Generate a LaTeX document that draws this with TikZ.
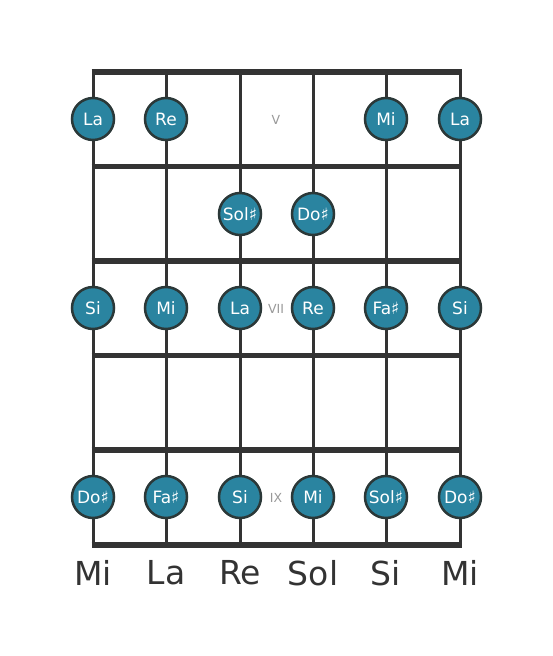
\documentclass[tikz,border=0pt]{standalone}
\usepackage{fontspec}
\setmainfont{DejaVu Sans}
\usepackage{tikz}

\definecolor{notefill}{HTML}{2A84A0}
\definecolor{noteline}{HTML}{2B3838}
\definecolor{boardline}{HTML}{333333}
\definecolor{fretgray}{HTML}{999999}

\begin{document}
\begin{tikzpicture}
        [x=1pt, y=-1pt,
        note/.style={circle, draw=noteline, fill=notefill, line width=2.5pt,
          minimum size=42pt, inner sep=0pt, text=white,
          font=\fontsize{17}{17}\selectfont},
        fretnum/.style={text=fretgray, font=\fontsize{12.5}{12.5}\selectfont},
        openstr/.style={text=boardline, font=\fontsize{33}{33}\selectfont},
        stringline/.style={draw=boardline, line width=3pt},
        fretline/.style={draw=boardline, line width=5.5pt}]
        \useasboundingbox (0,0) rectangle (553,656);
        % strings and frets
        \foreach \x in {93,166,240,313,386,460}
          \draw[stringline] (\x,72) -- (\x,545);
        \foreach \y in {72,166.5,261,355.5,450,545}
          \draw[fretline] (91.5,\y) -- (461.5,\y);
        % fret V
        \node (E5) at (93, 119) [note] {La};
        \node (A5) at (166, 119) [note] {Re};
        \node (V) at (276, 120) [fretnum] {V};
        \node (B5) at (386, 119) [note] {Mi};
        \node (e5) at (460, 119) [note] {La};
        % fret VI
        \node (D6) at (240, 214) [note] {Sol♯};
        \node (G6) at (313, 214) [note] {Do♯};
        % fret VII
        \node (E7) at (93, 308) [note] {Si};
        \node (A7) at (166, 308) [note] {Mi};
        \node (D7) at (240, 308) [note] {La};
        \node (VII) at (276, 309) [fretnum] {VII};
        \node (G7) at (313, 308) [note] {Re};
        \node (B7) at (386, 308) [note] {Fa♯};
        \node (e7) at (460, 308) [note] {Si};
        % fret IX
        \node (E9) at (93, 497) [note] {Do♯};
        \node (A9) at (166, 497) [note] {Fa♯};
        \node (D9) at (240, 497) [note] {Si};
        \node (IX) at (276, 498) [fretnum] {IX};
        \node (G9) at (313, 497) [note] {Mi};
        \node (B9) at (386, 497) [note] {Sol♯};
        \node (e9) at (460, 497) [note] {Do♯};
        % open strings
        \node (oE) at (93, 573) [openstr] {Mi};
        \node (oA) at (166, 573) [openstr] {La};
        \node (oD) at (240, 573) [openstr] {Re};
        \node (oG) at (313, 573) [openstr] {Sol};
        \node (oB) at (386, 573) [openstr] {Si};
        \node (oe) at (460, 573) [openstr] {Mi};
     \end{tikzpicture}
\end{document}
